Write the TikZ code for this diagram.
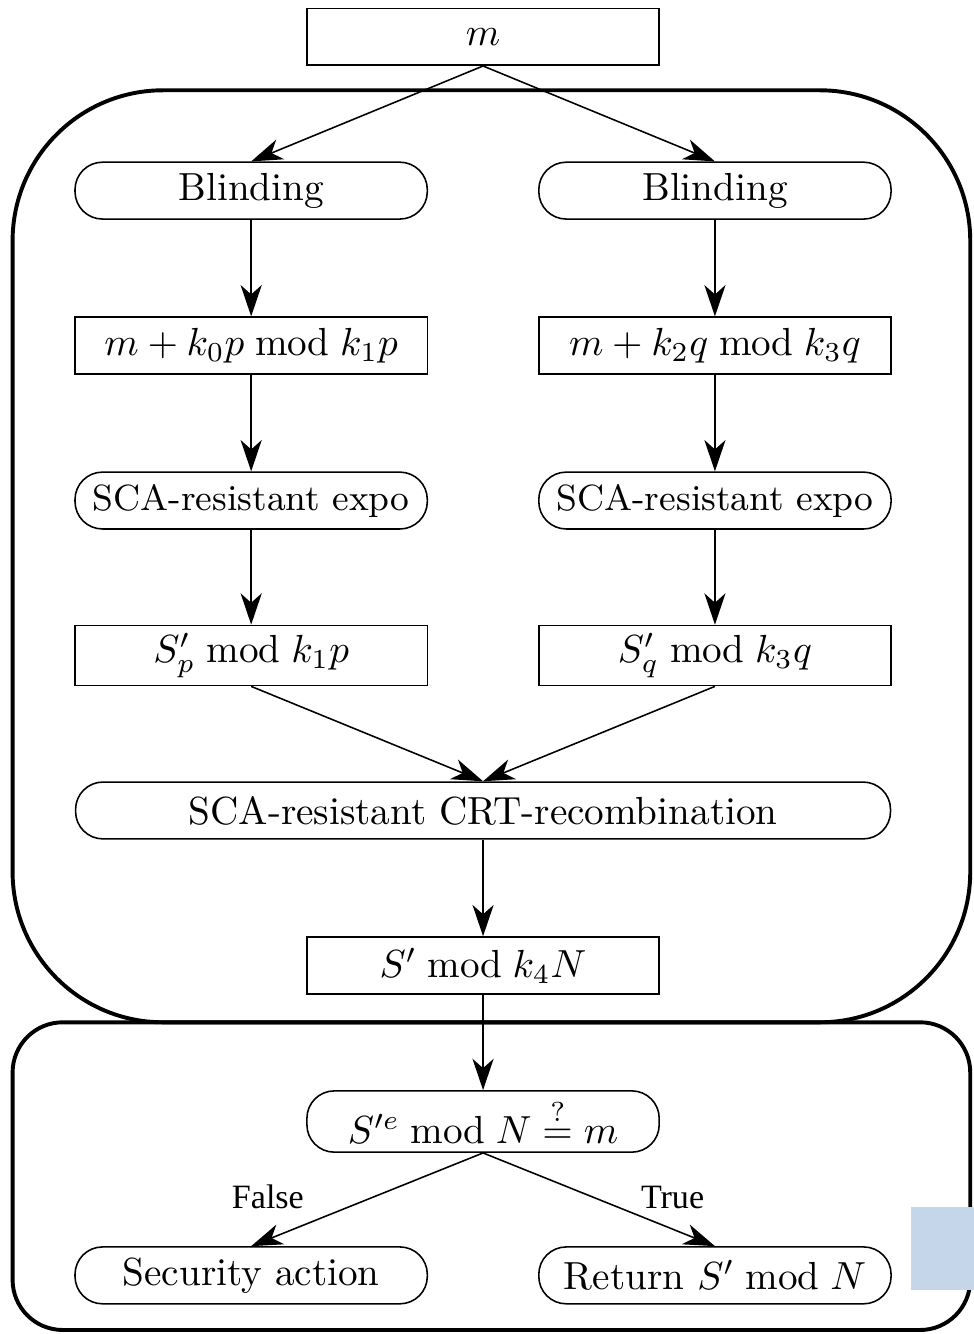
\documentclass[tikz,border=0pt]{standalone}
\usepackage{fontspec}
\newfontfamily\labelfont{Liberation Serif}
\usetikzlibrary{arrows.meta, positioning}
\definecolor{markblue}{HTML}{C5D5EA}

\begin{document}
\begin{tikzpicture}[
    valbox/.style={
        draw,
        minimum width=3.16cm,
        minimum height=0.51cm,
        inner sep=2pt
    },
    opbox/.style={
        valbox,
        rounded corners=7pt
    },
    arrow/.style={
        -{Stealth[length=8pt, width=5.4pt, inset=2.4pt]}
    },
    frame/.style={
        draw,
        line width=1pt
    },
    branch/.style={
        font=\labelfont\fontsize{8.7}{10}\selectfont
    }
]
\useasboundingbox (-4.333,0) rectangle (4.395,-11.966);

% Frames
\draw[frame, rounded corners=1.35cm] (-4.22,-0.81) rectangle (4.37,-9.17);
\draw[frame, rounded corners=0.45cm] (-4.22,-9.17) rectangle (4.37,-11.93);

% Input
\node[valbox] (msg) at (0,-0.33) {$m$};

% Left branch (p)
\node[opbox] (blindp) at (-2.08,-1.71) {Blinding};
\node[valbox] (redp) at (-2.08,-3.10) {$m + k_0p \bmod k_1p$};
\node[opbox, font=\fontsize{9.3}{11}\selectfont] (expp) at (-2.08,-4.49) {SCA-resistant expo};
\node[valbox] (sigp) at (-2.08,-5.88) {$S'_p \bmod k_1p$};

% Right branch (q)
\node[opbox] (blindq) at (2.08,-1.71) {Blinding};
\node[valbox] (redq) at (2.08,-3.10) {$m + k_2q \bmod k_3q$};
\node[opbox, font=\fontsize{9.3}{11}\selectfont] (expq) at (2.08,-4.49) {SCA-resistant expo};
\node[valbox] (sigq) at (2.08,-5.88) {$S'_q \bmod k_3q$};

% Recombination
\node[opbox, minimum width=7.31cm] (crt) at (0,-7.27) {SCA-resistant CRT-recombination};
\node[valbox] (sig) at (0,-8.66) {$S' \bmod k_4N$};

% Verification
\node[opbox] (check) at (0,-10.06) {$S'^e \bmod N \stackrel{?}{=} m$};
\node[opbox] (secact) at (-2.08,-11.44) {Security action};
\node[opbox] (ret) at (2.08,-11.44) {Return $S' \bmod N$};
\node[branch] (lfalse) at (-1.93,-10.74) {False};
\node[branch] (ltrue) at (1.70,-10.74) {True};

% Marker
\fill[markblue] (3.84,-10.83) rectangle (4.40,-11.57);

% Arrows
\draw[arrow] (msg.south) -- (blindp.north);
\draw[arrow] (msg.south) -- (blindq.north);
\draw[arrow] (blindp) -- (redp);
\draw[arrow] (redp) -- (expp);
\draw[arrow] (expp) -- (sigp);
\draw[arrow] (blindq) -- (redq);
\draw[arrow] (redq) -- (expq);
\draw[arrow] (expq) -- (sigq);
\draw[arrow] (sigp.south) -- (crt.north);
\draw[arrow] (sigq.south) -- (crt.north);
\draw[arrow] (crt) -- (sig);
\draw[arrow] (sig) -- (check);
\draw[arrow] (check.south) -- (secact.north);
\draw[arrow] (check.south) -- (ret.north);

\end{tikzpicture}
\end{document}
